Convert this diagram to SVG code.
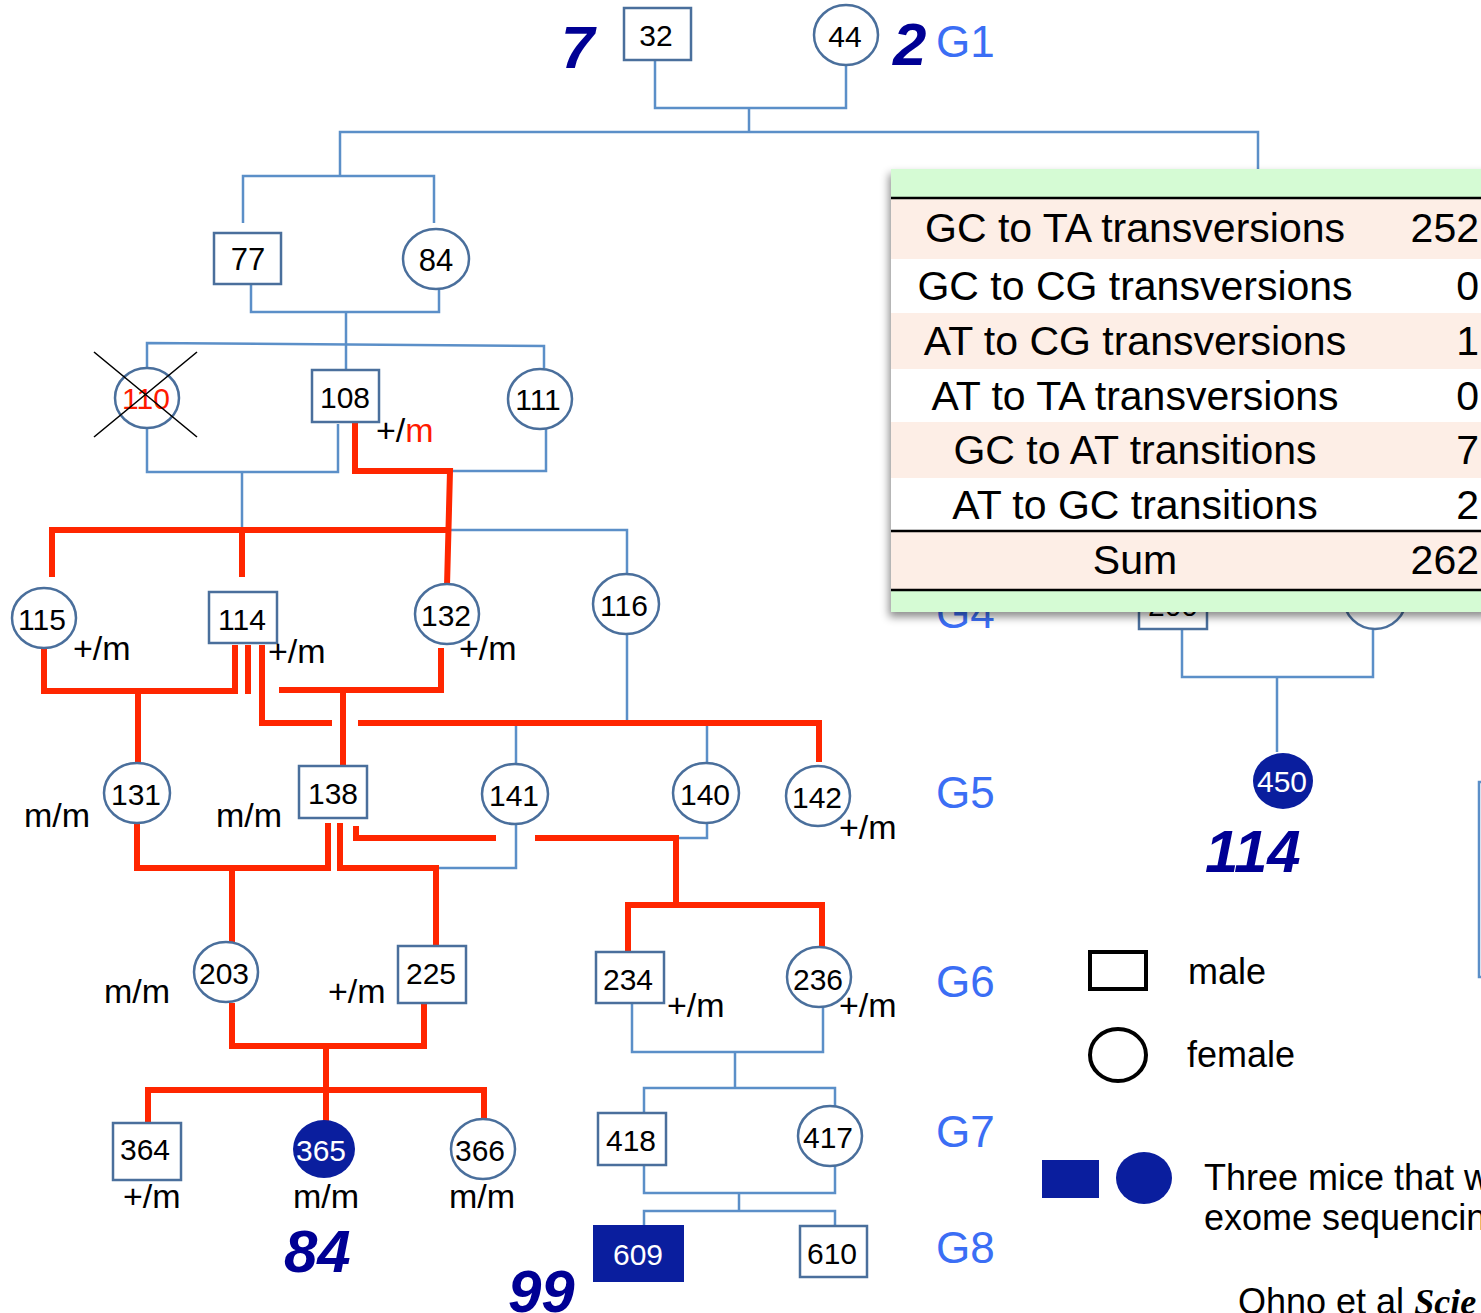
<svg xmlns="http://www.w3.org/2000/svg" width="1481" height="1313" viewBox="0 0 1481 1313">
<style>
.nd{fill:#fff;stroke:#4a6f9c;stroke-width:2.5}
.fill{fill:#0a1e9e;stroke:none}
.t{font-family:"Liberation Sans",Arial,sans-serif;font-size:30px;fill:#000;text-anchor:middle}
.tw{font-family:"Liberation Sans",Arial,sans-serif;font-size:30px;fill:#fff;text-anchor:middle}
.lab{font-family:"Liberation Sans",Arial,sans-serif;font-size:34px;fill:#000}
.gen{font-family:"Liberation Sans",Arial,sans-serif;font-size:44px;fill:#3b6ef5}
.big{font-family:"Liberation Sans",Arial,sans-serif;font-size:60px;font-weight:bold;font-style:italic;fill:#000094}
.blue{fill:none;stroke:#5b8fc8;stroke-width:2.5}
.red{fill:none;stroke:#ff2600;stroke-width:6}
.tb{font-family:"Liberation Sans",Arial,sans-serif;font-size:41px;fill:#000}
.leg{font-family:"Liberation Sans",Arial,sans-serif;font-size:36px;fill:#000}
</style>
<defs>
<filter id="sh" x="-5%" y="-5%" width="110%" height="115%">
<feDropShadow dx="-2" dy="5" stdDeviation="4" flood-color="#000" flood-opacity="0.45"/>
</filter>
</defs>
<rect width="1481" height="1313" fill="#fff"/>

<g id="connectors">
<path class="blue" d="M655 61 V108 H846 V65 M749 108 V132 M340 176 V132 H1258 V200"/>
<path class="blue" d="M243 223 V176 H434 V223"/>
<path class="blue" d="M251 285 V312 H439 V290 M346 312 V370"/>
<path class="blue" d="M147 368 V343 L544 346 V368"/>
<path class="blue" d="M147 428 V472 H338 V424 M242 472 V530"/>
<path class="blue" d="M546 429 V471 H450 M450 530 H627 V575"/>
<path class="blue" d="M627 634 V722 M516 722 V765 M707 722 V764"/>
<path class="blue" d="M516 824 V868 H436 M707 823 V838 H676"/>
<path class="blue" d="M632 1003 V1052 H823 V1007 M735 1052 V1088 M644 1113 V1088 H835 V1106"/>
<path class="blue" d="M644 1165 V1193 H835 V1166 M739 1193 V1211 M644 1225 V1211 H835 V1226"/>
<path class="blue" d="M1182 629 V677 H1373 V629 M1277 677 V752"/>
<path class="blue" d="M1483 782 H1479 V977 H1483"/>

<path class="red" d="M355 422 V471 H450 L447 586"/>
<path class="red" d="M52 577 V530 H450 M242 530 V577"/>
<path class="red" d="M44 648 V691 H235 V645 M248 645 V694 M138 691 V762"/>
<path class="red" d="M262 645 V723 H332 M358 723 H819 V762"/>
<path class="red" d="M279 690 H441 V648 M343 690 V766"/>
<path class="red" d="M137 822 V868 H328 V823 M232 868 V943"/>
<path class="red" d="M340 823 V868 H436 V945"/>
<path class="red" d="M356 826 V838 H496 M535 838 H676 V905 M628 952 V905 H822 V948"/>
<path class="red" d="M232 1003 V1046 H424 V1003 M326 1046 V1122"/>
<path class="red" d="M148 1123 V1090 H484 V1120"/>
</g>

<g id="n32"><rect class="nd" x="624" y="8" width="67" height="52"/><text class="t" x="656" y="46">32</text></g>
<g id="n44"><ellipse class="nd" cx="846" cy="35" rx="32" ry="30"/><text class="t" x="845" y="47">44</text></g>
<g id="n77"><rect class="nd" x="214" y="233" width="67" height="51"/><text class="t" x="248" y="270" style="font-size:31px">77</text></g>
<g id="n84"><ellipse class="nd" cx="436" cy="259" rx="33" ry="30"/><text class="t" x="436" y="271" style="font-size:31px">84</text></g>
<g id="n110"><ellipse class="nd" cx="147" cy="398" rx="32" ry="30"/><text class="t" x="146" y="409" style="fill:#ff1a00">110</text>
<path d="M94 352 L197 437 M197 352 L94 437" stroke="#000" stroke-width="1.6"/></g>
<g id="n108"><rect class="nd" x="312" y="370" width="67" height="52"/><text class="t" x="345" y="408">108</text></g>
<g id="n111"><ellipse class="nd" cx="540" cy="399" rx="32" ry="30"/><text class="t" x="538" y="410">111</text></g>
<g id="n115"><ellipse class="nd" cx="44" cy="618" rx="32" ry="30"/><text class="t" x="42" y="630">115</text></g>
<g id="n114"><rect class="nd" x="209" y="592" width="68" height="51"/><text class="t" x="242" y="630">114</text></g>
<g id="n132"><ellipse class="nd" cx="447" cy="614" rx="32" ry="30"/><text class="t" x="446" y="626">132</text></g>
<g id="n116"><ellipse class="nd" cx="626" cy="604" rx="33" ry="30"/><text class="t" x="624" y="616">116</text></g>
<g id="n131"><ellipse class="nd" cx="137" cy="793" rx="33" ry="30"/><text class="t" x="136" y="805">131</text></g>
<g id="n138"><rect class="nd" x="299" y="766" width="68" height="52"/><text class="t" x="333" y="804">138</text></g>
<g id="n141"><ellipse class="nd" cx="515" cy="794" rx="33" ry="30"/><text class="t" x="514" y="806">141</text></g>
<g id="n140"><ellipse class="nd" cx="706" cy="793" rx="33" ry="30"/><text class="t" x="705" y="805">140</text></g>
<g id="n142"><ellipse class="nd" cx="818" cy="796" rx="32" ry="30"/><text class="t" x="817" y="808">142</text></g>
<g id="n203"><ellipse class="nd" cx="226" cy="972" rx="32" ry="30"/><text class="t" x="224" y="984">203</text></g>
<g id="n225"><rect class="nd" x="398" y="946" width="68" height="57"/><text class="t" x="431" y="984">225</text></g>
<g id="n234"><rect class="nd" x="596" y="952" width="68" height="51"/><text class="t" x="628" y="990">234</text></g>
<g id="n236"><ellipse class="nd" cx="819" cy="977" rx="32" ry="30"/><text class="t" x="818" y="990">236</text></g>
<g id="n364"><rect class="nd" x="113" y="1123" width="68" height="57"/><text class="t" x="145" y="1160">364</text></g>
<g id="n365"><ellipse class="fill" cx="324" cy="1149" rx="31" ry="29"/><text class="tw" x="321" y="1161">365</text></g>
<g id="n366"><ellipse class="nd" cx="483" cy="1149" rx="32" ry="30"/><text class="t" x="480" y="1161">366</text></g>
<g id="n418"><rect class="nd" x="598" y="1113" width="68" height="52"/><text class="t" x="631" y="1151">418</text></g>
<g id="n417"><ellipse class="nd" cx="830" cy="1136" rx="32" ry="30"/><text class="t" x="828" y="1148">417</text></g>
<g id="n609"><rect class="fill" x="593" y="1225" width="91" height="57"/><text class="tw" x="638" y="1265">609</text></g>
<g id="n610"><rect class="nd" x="800" y="1226" width="67" height="51"/><text class="t" x="832" y="1264">610</text></g>
<g id="n450"><ellipse class="fill" cx="1283" cy="781" rx="30" ry="28"/><text class="tw" x="1282" y="792">450</text></g>
<g id="n200"><rect class="nd" x="1139" y="578" width="68" height="51"/><text class="t" x="1173" y="616">200</text></g>
<g id="nR"><ellipse class="nd" cx="1375" cy="599" rx="31" ry="30"/></g>

<g id="genotypes">
<text class="lab" x="376" y="442">+/<tspan fill="#ff1a00">m</tspan></text>
<text class="lab" x="73" y="660">+/m</text>
<text class="lab" x="268" y="663">+/m</text>
<text class="lab" x="459" y="660">+/m</text>
<text class="lab" x="24" y="827">m/m</text>
<text class="lab" x="216" y="827">m/m</text>
<text class="lab" x="839" y="839">+/m</text>
<text class="lab" x="104" y="1003">m/m</text>
<text class="lab" x="328" y="1003">+/m</text>
<text class="lab" x="667" y="1017">+/m</text>
<text class="lab" x="839" y="1017">+/m</text>
<text class="lab" x="123" y="1208">+/m</text>
<text class="lab" x="293" y="1208">m/m</text>
<text class="lab" x="449" y="1208">m/m</text>
</g>

<g id="counts">
<text class="big" x="561" y="68">7</text>
<text class="big" x="893" y="65">2</text>
<text class="big" x="1205" y="872">114</text>
<text class="big" x="284" y="1272">84</text>
<text class="big" x="508" y="1312">99</text>
</g>

<g id="generations">
<text class="gen" x="936" y="57">G1</text>
<text class="gen" x="936" y="628">G4</text>
<text class="gen" x="936" y="808">G5</text>
<text class="gen" x="936" y="997">G6</text>
<text class="gen" x="936" y="1147">G7</text>
<text class="gen" x="936" y="1263">G8</text>
</g>

<g id="table">
<g filter="url(#sh)">
<rect x="891" y="169" width="600" height="443" fill="#fdeee6"/>
</g>
<rect x="891" y="169" width="600" height="29" fill="#d5fbd4"/>
<rect x="891" y="259" width="600" height="54" fill="#fff"/>
<rect x="891" y="369" width="600" height="53" fill="#fff"/>
<rect x="891" y="478" width="600" height="52" fill="#fff"/>
<rect x="891" y="591" width="600" height="21" fill="#d5fbd4"/>
<path d="M891 198 H1491 M891 531 H1491 M891 590 H1491" stroke="#000" stroke-width="2.5"/>
<g class="tb" text-anchor="middle">
<text x="1135" y="242">GC to TA transversions</text>
<text x="1135" y="300">GC to CG transversions</text>
<text x="1135" y="355">AT to CG transversions</text>
<text x="1135" y="410">AT to TA transversions</text>
<text x="1135" y="464">GC to AT transitions</text>
<text x="1135" y="519">AT to GC transitions</text>
<text x="1135" y="574">Sum</text>
</g>
<g class="tb" text-anchor="end">
<text x="1479" y="242">252</text>
<text x="1479" y="300">0</text>
<text x="1479" y="355">1</text>
<text x="1479" y="410">0</text>
<text x="1479" y="464">7</text>
<text x="1479" y="519">2</text>
<text x="1479" y="574">262</text>
</g>
</g>

<g id="legend">
<rect x="1090" y="952" width="56" height="37" fill="none" stroke="#000" stroke-width="4"/>
<text class="leg" x="1188" y="984">male</text>
<ellipse cx="1118" cy="1055" rx="28" ry="26" fill="none" stroke="#000" stroke-width="4"/>
<text class="leg" x="1187" y="1067">female</text>
<rect x="1042" y="1160" width="57" height="38" fill="#0a1e9e"/>
<ellipse cx="1144" cy="1178" rx="28" ry="26" fill="#0a1e9e"/>
<text class="leg" x="1204" y="1190">Three mice that w</text>
<text class="leg" x="1204" y="1230">exome sequencin</text>
<text class="leg" x="1238" y="1314">Ohno et al <tspan style="font-family:'Liberation Serif',serif;font-style:italic;font-weight:bold">Scie</tspan></text>
</g>
</svg>
